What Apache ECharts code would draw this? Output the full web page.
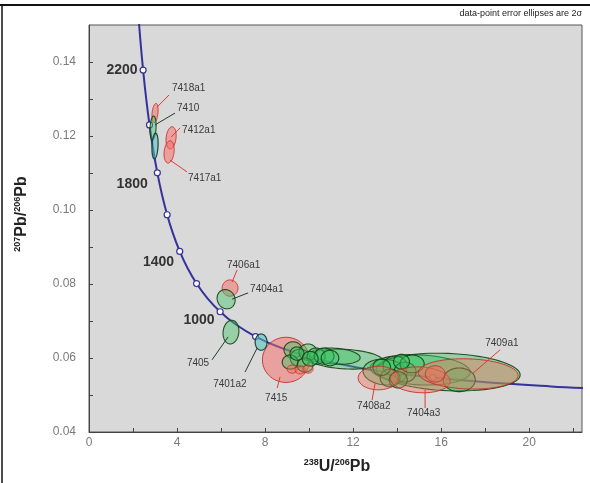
<!DOCTYPE html>
<html>
<head>
<meta charset="utf-8">
<script src="https://cdn.jsdelivr.net/npm/echarts@6/dist/echarts.min.js"></script>
<style>
  html, body { margin: 0; padding: 0; background: #ffffff; }
  #chart { width: 590px; height: 483px; }
</style>
</head>
<body>
<div id="chart"></div>
<script>
// Tera-Wasserburg concordia (ages in Ma) with tabulated 238U/206Pb and 207Pb/206Pb ratios
const concordiaAges = [280, 300, 350, 400, 450, 500, 600, 700, 800, 900, 1000, 1100, 1200, 1300, 1400, 1500, 1600, 1700, 1800, 1900, 2000, 2100, 2200, 2300, 2400];
const concordiaU238Pb206 = [22.527, 20.992, 17.923, 15.621, 13.831, 12.399, 10.252, 8.718, 7.568, 6.674, 5.959, 5.375, 4.888, 4.476, 4.123, 3.817, 3.550, 3.314, 3.105, 2.917, 2.749, 2.597, 2.459, 2.332, 2.217];
const concordiaPb207Pb206 = [0.05188, 0.05233, 0.05350, 0.05470, 0.05594, 0.05722, 0.05990, 0.06276, 0.06580, 0.06904, 0.07250, 0.07619, 0.08012, 0.08432, 0.08881, 0.09360, 0.09872, 0.10419, 0.11004, 0.11629, 0.12299, 0.13015, 0.13782, 0.14603, 0.15483];
const labelledAges = [2200, 1800, 1400, 1000];

// Error ellipses: [238U/206Pb, 207Pb/206Pb, 2σ x, 2σ y, correlation]
const redEllipses = [
  [3.00, 0.1262, 0.14, 0.0026, 0.3],
  [3.73, 0.1195, 0.23, 0.0030, 0.2],
  [3.64, 0.1157, 0.23, 0.0030, 0.2],
  [6.41, 0.0789, 0.36, 0.0022, 0],
  [8.95, 0.0595, 1.07, 0.0061, 0]
];
const greenEllipses = [
  [2.91, 0.1222, 0.14, 0.0032, 0.2],
  [6.23, 0.0759, 0.41, 0.0026, -0.1],
  [6.45, 0.0670, 0.36, 0.0032, 0.1],
  [15.05, 0.0568, 2.27, 0.0041, -0.15],
  [16.32, 0.0562, 3.27, 0.0051, -0.15],
  [11.64, 0.0597, 1.73, 0.0027, -0.2],
  [11.18, 0.0605, 1.14, 0.0022, -0.2],
  [9.27, 0.0622, 0.41, 0.0022, 0],
  [9.59, 0.0600, 0.45, 0.0024, 0],
  [9.95, 0.0616, 0.41, 0.0022, 0],
  [10.32, 0.0605, 0.41, 0.0022, 0],
  [10.68, 0.0605, 0.45, 0.0022, 0],
  [9.14, 0.0589, 0.36, 0.0019, 0],
  [9.82, 0.0581, 0.36, 0.0019, 0],
  [9.45, 0.0612, 0.32, 0.0018, 0],
  [10.05, 0.0598, 0.36, 0.0020, 0],
  [10.95, 0.0600, 0.40, 0.0021, 0],
  [13.45, 0.0562, 1.00, 0.0035, -0.1],
  [13.91, 0.0578, 0.55, 0.0027, 0],
  [14.36, 0.0562, 0.50, 0.0027, 0],
  [13.68, 0.0546, 0.45, 0.0024, 0],
  [14.68, 0.0584, 0.55, 0.0024, 0],
  [14.05, 0.0541, 0.41, 0.0022, 0],
  [13.30, 0.0575, 0.40, 0.0022, 0],
  [14.20, 0.0590, 0.36, 0.0020, 0],
  [16.82, 0.0541, 0.73, 0.0032, 0]
];
const tealEllipses = [
  [3.00, 0.1173, 0.14, 0.0035, 0.2],
  [7.82, 0.0643, 0.27, 0.0022, 0]
];
const redEllipsesHighU = [
  [13.14, 0.0546, 0.91, 0.0032, 0],
  [15.05, 0.0541, 1.36, 0.0035, -0.1],
  [17.23, 0.0557, 2.27, 0.0041, -0.1],
  [15.73, 0.0557, 0.45, 0.0022, 0],
  [9.23, 0.0570, 0.23, 0.0011, 0],
  [9.59, 0.0568, 0.23, 0.0011, 0],
  [9.95, 0.0570, 0.23, 0.0011, 0]
];

// Sample names and their callout geometry (leader start, leader end, text anchor)
const sampleNames = ['7418a1', '7410', '7412a1', '7417a1', '7406a1', '7404a1', '7405', '7401a2', '7415', '7408a2', '7404a3', '7409a1'];
const sampleKinds = ['r', 'g', 'r', 'r', 'r', 'g', 'g', 'g', 'r', 'r', 'r', 'r'];
const calloutGeometry = [
  [3.09, 0.1278, 3.64, 0.1311, 3.77, 0.1330],
  [3.00, 0.1230, 3.91, 0.1262, 4.00, 0.1276],
  [3.73, 0.1197, 4.14, 0.1222, 4.23, 0.1216],
  [3.68, 0.1135, 4.45, 0.1103, 4.50, 0.1086],
  [6.50, 0.0805, 6.73, 0.0838, 6.27, 0.0851],
  [6.50, 0.0759, 7.23, 0.0776, 7.32, 0.0786],
  [6.32, 0.0657, 5.59, 0.0595, 4.45, 0.0586],
  [7.64, 0.0627, 7.09, 0.0562, 5.64, 0.0530],
  [8.68, 0.0549, 8.55, 0.0519, 8.00, 0.0492],
  [13.00, 0.0532, 12.86, 0.0486, 12.18, 0.0470],
  [15.27, 0.0514, 15.27, 0.0465, 14.45, 0.0451],
  [17.45, 0.0559, 18.68, 0.0622, 18.00, 0.0641]
];

const FONT = 'Liberation Sans, Arial, sans-serif';
const CURVE = '#35339a';
const RED_FILL = 'rgba(248,105,100,0.5)';
const RED_EDGE = 'rgba(200,45,40,0.9)';

function ellipseRenderer(fill, stroke, lineWidth) {
  return function (params, api) {
    const cx = api.value(0), cy = api.value(1);
    const hw = api.value(2), hh = api.value(3), rho = api.value(4);
    const s = Math.sqrt(1 - rho * rho);
    const pts = [];
    for (let k = 0; k < 72; k++) {
      const t = 2 * Math.PI * k / 72;
      pts.push(api.coord([cx + hw * Math.cos(t), cy + hh * (rho * Math.cos(t) + s * Math.sin(t))]));
    }
    return {
      type: 'polygon',
      shape: { points: pts },
      style: { fill: fill, stroke: stroke, lineWidth: lineWidth }
    };
  };
}

const curveData = concordiaAges.map((a, i) => [concordiaU238Pb206[i], concordiaPb207Pb206[i], a]);
const markerData = curveData.filter(d => d[2] % 200 === 0 && d[2] >= 400 && d[2] <= 2200);

const ageLabelOffset = { 2200: [0, 0], 1800: [-4, 11], 1400: [0, 11], 1000: [0, 8] };
const markerItems = markerData.map(d => {
  const item = { value: d };
  if (labelledAges.indexOf(d[2]) >= 0) {
    item.label = {
      show: true, position: 'left', distance: 2, offset: ageLabelOffset[d[2]],
      formatter: String(d[2]), fontFamily: FONT, fontSize: 14, fontWeight: 'bold', color: '#333'
    };
  }
  return item;
});

const calloutData = sampleNames.map((n, i) => calloutGeometry[i].concat([i]));

const titleRich = {
  s: { fontSize: 9, fontWeight: 'bold', fontFamily: FONT, fill: '#222', verticalAlign: 'top', lineHeight: 18 },
  b: { fontSize: 16, fontWeight: 'bold', fontFamily: FONT, fill: '#222', lineHeight: 18 }
};

const chart = echarts.init(document.getElementById('chart'), null, { renderer: 'canvas' });
chart.setOption({
  animation: false,
  backgroundColor: '#ffffff',
  grid: {
    left: 89, right: 8, top: 25, bottom: 51,
    show: true, backgroundColor: '#d9d9d9', borderColor: '#555', borderWidth: 1
  },
  xAxis: {
    type: 'value', min: 0, max: 22.4, interval: 2,
    axisLine: { show: true, lineStyle: { color: '#444' } },
    axisTick: { show: true, inside: true, length: 4, lineStyle: { color: '#444' } },
    splitLine: { show: false },
    axisLabel: {
      margin: 5, color: '#7a7a7a', fontFamily: FONT, fontSize: 12, showMaxLabel: false,
      formatter: v => (Math.round(v) % 4 === 0 ? String(Math.round(v)) : '')
    }
  },
  yAxis: {
    type: 'value', min: 0.04, max: 0.15, interval: 0.01,
    axisLine: { show: true, lineStyle: { color: '#444' } },
    axisTick: { show: true, inside: true, length: 4, lineStyle: { color: '#444' } },
    splitLine: { show: false },
    axisLabel: {
      margin: 13, color: '#7a7a7a', fontFamily: FONT, fontSize: 12, showMaxLabel: false,
      formatter: v => { const c = Math.round(v * 100); return c % 2 === 0 ? (c / 100).toFixed(2) : ''; }
    }
  },
  series: [
    {
      type: 'line', data: curveData, smooth: 0.4, symbol: 'none', z: 2,
      lineStyle: { color: CURVE, width: 2 }
    },
    {
      type: 'scatter', data: markerItems, symbol: 'circle', symbolSize: 6, z: 3,
      itemStyle: { color: '#ffffff', borderColor: CURVE, borderWidth: 1.2, opacity: 1 }
    },
    {
      type: 'custom', data: redEllipses, z: 4, encode: { x: 0, y: 1 },
      renderItem: ellipseRenderer(RED_FILL, RED_EDGE, 1)
    },
    {
      type: 'custom', data: greenEllipses, z: 5, encode: { x: 0, y: 1 },
      renderItem: ellipseRenderer('rgba(60,195,100,0.42)', 'rgba(20,65,20,0.9)', 1.1)
    },
    {
      type: 'custom', data: tealEllipses, z: 5, encode: { x: 0, y: 1 },
      renderItem: ellipseRenderer('rgba(80,195,190,0.55)', 'rgba(20,60,50,0.95)', 1.2)
    },
    {
      type: 'custom', data: redEllipsesHighU, z: 6, encode: { x: 0, y: 1 },
      renderItem: ellipseRenderer('rgba(240,110,90,0.4)', RED_EDGE, 1)
    },
    {
      type: 'custom', data: calloutData, z: 7, encode: { x: 4, y: 5 },
      renderItem: function (params, api) {
        const i = api.value(6);
        const p0 = api.coord([api.value(0), api.value(1)]);
        const p1 = api.coord([api.value(2), api.value(3)]);
        const pt = api.coord([api.value(4), api.value(5)]);
        const col = sampleKinds[i] === 'r' ? '#e03a35' : '#2a3a2a';
        return {
          type: 'group',
          children: [
            { type: 'line', shape: { x1: p0[0], y1: p0[1], x2: p1[0], y2: p1[1] }, style: { stroke: col, lineWidth: 1 } },
            { type: 'text', style: { text: sampleNames[i], x: pt[0], y: pt[1], fill: '#3a3a3a', fontFamily: FONT, fontSize: 10, align: 'left', verticalAlign: 'middle' } }
          ]
        };
      }
    }
  ],
  graphic: [
    { type: 'line', shape: { x1: 0, y1: 5, x2: 590, y2: 5 }, style: { stroke: '#111', lineWidth: 2 } },
    { type: 'line', shape: { x1: 2, y1: 5, x2: 2, y2: 483 }, style: { stroke: '#111', lineWidth: 1.5 } },
    {
      type: 'text', right: 8, top: 9,
      style: { text: 'data-point error ellipses are 2σ', fill: '#222', fontFamily: FONT, fontSize: 9 }
    },
    {
      type: 'text', x: 337, y: 467,
      style: { text: '{s|238}{b|U/}{s|206}{b|Pb}', align: 'center', verticalAlign: 'middle', rich: titleRich }
    },
    {
      type: 'text', x: 22, y: 214, rotation: Math.PI / 2,
      style: { text: '{s|207}{b|Pb/}{s|206}{b|Pb}', align: 'center', verticalAlign: 'middle', rich: titleRich }
    }
  ]
});
</script>
</body>
</html>
